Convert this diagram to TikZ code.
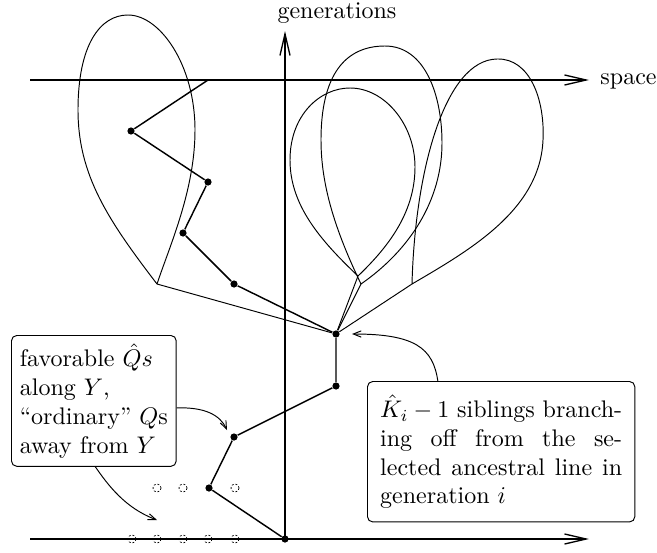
\documentclass[tikz,border=0pt]{standalone}
\usetikzlibrary{arrows.meta,calc}
\begin{document}
\begin{tikzpicture}[x=0.4167pt,y=-0.4167pt,
  axis/.style={line width=0.55pt,-{Straight Barb[length=9pt,width=4.2pt]}},
  lineage/.style={line width=0.6pt},
  sib/.style={line width=0.4pt},
  loopc/.style={line width=0.4pt},
  dot/.style={circle,fill,inner sep=0pt,minimum size=3pt},
  odot/.style={circle,draw,dash pattern=on 0.8pt off 0.8pt,line width=0.3pt,inner sep=0pt,minimum size=3.4pt},
  callout/.style={draw,rounded corners=2.2pt,line width=0.4pt},
  pointer/.style={line width=0.4pt,-{Straight Barb[length=3.3pt,width=2.6pt]}}
]
\useasboundingbox (0,0) rectangle (657,552);

% axes
\coordinate (tl) at (30,80);
\coordinate (tr) at (589,80);
\coordinate (bl) at (30,539);
\coordinate (br) at (589,539);
\coordinate (vt) at (285,31);
\draw[axis] (tl) -- (tr);
\draw[axis] (bl) -- (br);
\node[anchor=base] (gen) at (337,18) {generations};
\node[anchor=base west,inner sep=0pt] (spc) at (600,84) {space};

% loops (siblings' families)
\coordinate (cL) at (157,284);
\coordinate (cA) at (358,276);
\coordinate (cB) at (361,284);
\coordinate (cC) at (412,284);
\draw[loopc] (cL) .. controls (108,220) and (78,175) .. (78,110)
  .. controls (78,45) and (100,15) .. (128,15)
  .. controls (160,15) and (195,65) .. (195,130)
  .. controls (195,190) and (170,245) .. (cL);
\draw[loopc] (cA) .. controls (320,240) and (290,205) .. (290,160)
  .. controls (290,115) and (320,88) .. (350,88)
  .. controls (385,88) and (415,125) .. (415,167)
  .. controls (415,215) and (385,250) .. (cA);
\draw[loopc] (cB) .. controls (335,230) and (321,185) .. (321,140)
  .. controls (321,75) and (345,46) .. (385,46)
  .. controls (425,46) and (442,95) .. (442,143)
  .. controls (442,200) and (410,250) .. (cB);
\draw[loopc] (cC) .. controls (415,170) and (445,60) .. (497,59)
  .. controls (530,58) and (545,100) .. (543,140)
  .. controls (540,210) and (470,250) .. (cC);

% vertical axis
\coordinate (vb) at (285,539);
\draw[axis] (vb) -- (vt);

% ancestral line
\coordinate (t0) at (208,80);
\node[dot] (d1) at (131,131) {};
\node[dot] (d2) at (208,182) {};
\node[dot] (d3) at (183,233) {};
\node[dot] (d4) at (234,284) {};
\node[dot] (d5) at (336,334) {};
\node[dot] (d6) at (336,386) {};
\node[dot] (d7) at (234,437) {};
\node[dot] (d8) at (209,488) {};
\node[dot] (d9) at (285,539) {};
\draw[lineage] (t0) -- (d1) -- (d2) -- (d3) -- (d4) -- (d5) -- (d6) -- (d7) -- (d8) -- (d9);

% siblings
\draw[sib] (cL) -- (d5);
\draw[sib] (cA) -- (d5);
\draw[sib] (cB) -- (d5);
\draw[sib] (cC) -- (d5);

% open circles
\node[odot] (oa1) at (157,488) {};
\node[odot] (oa2) at (183,488) {};
\node[odot] (oa3) at (235,488) {};
\node[odot] (ob1) at (132,539) {};
\node[odot] (ob2) at (157,539) {};
\node[odot] (ob3) at (183,539) {};
\node[odot] (ob4) at (208,539) {};
\node[odot] (ob5) at (235,539) {};

% callout boxes
\node[callout,anchor=north west,align=left,inner xsep=3.5pt,inner ysep=3.5pt] (b1) at (11,335)
  {favorable $\hat Q s$\\ along $Y$,\\ ``ordinary'' $Q$s\\ away from $Y$};
\node[callout,anchor=north west,text width=100.8pt,align=justify,inner xsep=5.3pt,inner ysep=5.5pt] (b2) at (367,381)
  {$\hat K_i-1$ siblings branch-\linebreak ing off from the se-\linebreak lected ancestral line in\linebreak generation $i$};

% pointers
\draw[pointer] ($(b1.east)+(0,7)$) .. controls (205,407) and (220,415) .. ($(d7)+(-7,-7)$);
\draw[pointer] ($(b1.south)+(1.5,0)$) .. controls (108,485) and (125,508) .. ($(ob2)+(0,-19)$);
\draw[pointer] ($(b2.north west)!0.264!(b2.north east)$) .. controls (433,348) and (415,334) .. ($(d5)+(16,0)$);
\end{tikzpicture}
\end{document}
